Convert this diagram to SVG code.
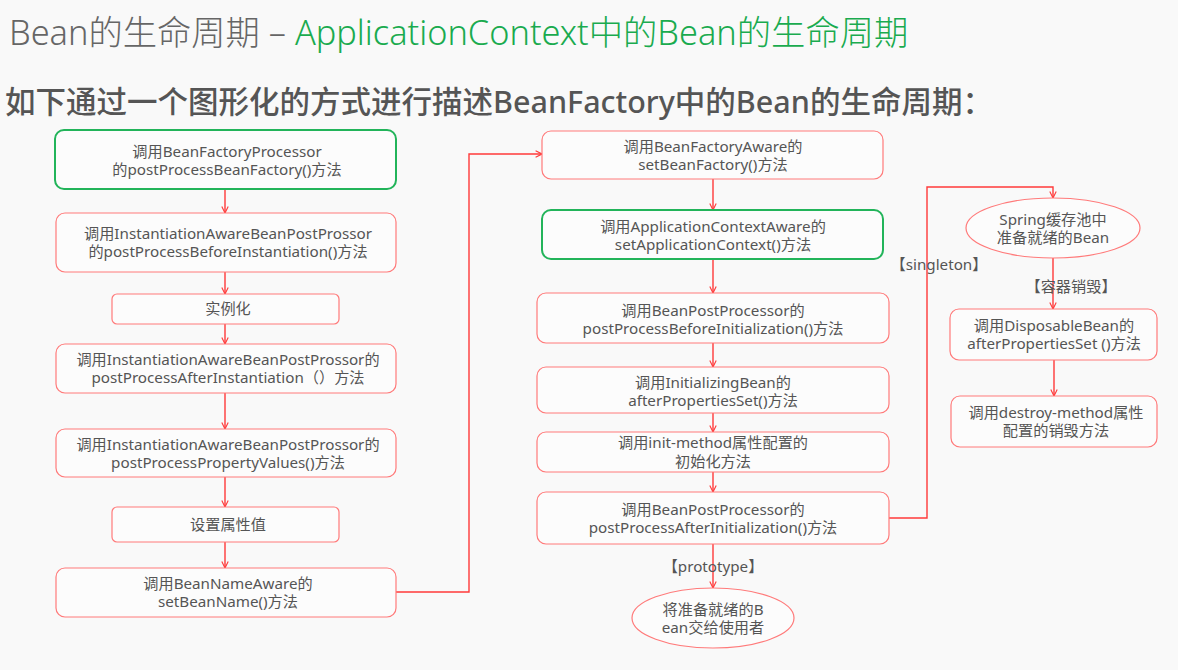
<svg xmlns="http://www.w3.org/2000/svg" width="1178" height="670" viewBox="0 0 1178 670">
<style>
.bg{fill:#f9f9f9}
.box{fill:#fcfcfc;stroke:#ff7a7a;stroke-width:1.2}
.gbox{fill:#fcfcfc;stroke:#22b45a;stroke-width:2}
.t{font-family:"Noto Sans","Noto Sans CJK SC",sans-serif;font-size:15.2px;fill:#555;text-anchor:middle}
.lbl{font-family:"Noto Sans","Noto Sans CJK SC",sans-serif;font-size:15.2px;fill:#555;text-anchor:middle}
.c{fill:none;stroke:#ff3a3a;stroke-width:1.4}
</style>
<defs>
<marker id="ah" viewBox="0 0 10 10" refX="9" refY="5" markerWidth="8" markerHeight="8" orient="auto" markerUnits="userSpaceOnUse">
<path d="M1,1 L9,5 L1,9" fill="none" stroke="#ff3a3a" stroke-width="1.4"/>
</marker>
</defs>
<rect class="bg" x="0" y="0" width="1178" height="670"/>
<text x="9" y="45" font-family="'Noto Sans','Noto Sans CJK SC',sans-serif" font-size="34.3" font-weight="300" fill="#666">Bean的生命周期 – <tspan fill="#1aab4f">ApplicationContext中的Bean的生命周期</tspan></text>
<text x="5" y="113" font-family="'Noto Sans','Noto Sans CJK SC',sans-serif" font-size="30.5" font-weight="500" fill="#555">如下通过一个图形化的方式进行描述BeanFactory中的Bean的生命周期：</text>

<g id="connectors">
<line class="c" x1="225" y1="189" x2="225" y2="213" marker-end="url(#ah)"/>
<line class="c" x1="225" y1="272" x2="225" y2="294" marker-end="url(#ah)"/>
<line class="c" x1="225" y1="324" x2="225" y2="344" marker-end="url(#ah)"/>
<line class="c" x1="225" y1="393" x2="225" y2="429" marker-end="url(#ah)"/>
<line class="c" x1="225" y1="477" x2="225" y2="507" marker-end="url(#ah)"/>
<line class="c" x1="225" y1="542" x2="225" y2="568" marker-end="url(#ah)"/>
<polyline class="c" points="396,592 469,592 469,154 542,154" marker-end="url(#ah)"/>
<line class="c" x1="713" y1="179" x2="713" y2="210" marker-end="url(#ah)"/>
<line class="c" x1="713" y1="259" x2="713" y2="293" marker-end="url(#ah)"/>
<line class="c" x1="713" y1="343" x2="713" y2="367" marker-end="url(#ah)"/>
<line class="c" x1="713" y1="413" x2="713" y2="432" marker-end="url(#ah)"/>
<line class="c" x1="713" y1="472" x2="713" y2="492" marker-end="url(#ah)"/>
<line class="c" x1="713" y1="544" x2="713" y2="588" marker-end="url(#ah)"/>
<polyline class="c" points="889,518 927,518 927,187 1053,187 1053,198" marker-end="url(#ah)"/>
<line class="c" x1="1053" y1="258" x2="1053" y2="309" marker-end="url(#ah)"/>
<line class="c" x1="1054" y1="360" x2="1054" y2="396" marker-end="url(#ah)"/>
<text class="lbl" x="713" y="572">【prototype】</text>
<text class="lbl" x="939" y="270">【singleton】</text>
<text class="lbl" x="1071" y="292">【容器销毁】</text>
</g>

<g id="n1"><rect class="gbox" x="55" y="130" width="341" height="59" rx="9"/>
<text class="t" x="227" y="157">调用BeanFactoryProcessor</text><text class="t" x="227" y="175">的postProcessBeanFactory()方法</text></g>
<g id="n2"><rect class="box" x="56" y="213" width="340" height="59" rx="9"/>
<text class="t" x="228" y="239">调用InstantiationAwareBeanPostProssor</text><text class="t" x="228" y="257">的postProcessBeforeInstantiation()方法</text></g>
<g id="n3"><rect class="box" x="112" y="294" width="227" height="30" rx="5"/>
<text class="t" x="228" y="314">实例化</text></g>
<g id="n4"><rect class="box" x="56" y="344" width="340" height="49" rx="9"/>
<text class="t" x="228" y="365">调用InstantiationAwareBeanPostProssor的</text><text class="t" x="228" y="383">postProcessAfterInstantiation（）方法</text></g>
<g id="n5"><rect class="box" x="56" y="429" width="340" height="48" rx="9"/>
<text class="t" x="228" y="450">调用InstantiationAwareBeanPostProssor的</text><text class="t" x="228" y="468">postProcessPropertyValues()方法</text></g>
<g id="n6"><rect class="box" x="112" y="507" width="227" height="35" rx="5"/>
<text class="t" x="228" y="530">设置属性值</text></g>
<g id="n7"><rect class="box" x="56" y="568" width="340" height="49" rx="9"/>
<text class="t" x="228" y="589">调用BeanNameAware的</text><text class="t" x="228" y="607">setBeanName()方法</text></g>

<g id="n8"><rect class="box" x="542" y="131" width="341" height="48" rx="9"/>
<text class="t" x="713" y="152">调用BeanFactoryAware的</text><text class="t" x="713" y="170">setBeanFactory()方法</text></g>
<g id="n9"><rect class="gbox" x="542" y="210" width="341" height="49" rx="9"/>
<text class="t" x="713" y="232">调用ApplicationContextAware的</text><text class="t" x="713" y="250">setApplicationContext()方法</text></g>
<g id="n10"><rect class="box" x="537" y="293" width="352" height="50" rx="9"/>
<text class="t" x="713" y="316">调用BeanPostProcessor的</text><text class="t" x="713" y="334">postProcessBeforeInitialization()方法</text></g>
<g id="n11"><rect class="box" x="537" y="367" width="352" height="46" rx="9"/>
<text class="t" x="713" y="388">调用InitializingBean的</text><text class="t" x="713" y="406">afterPropertiesSet()方法</text></g>
<g id="n12"><rect class="box" x="537" y="432" width="352" height="40" rx="9"/>
<text class="t" x="713" y="448">调用init-method属性配置的</text><text class="t" x="713" y="467">初始化方法</text></g>
<g id="n13"><rect class="box" x="537" y="492" width="352" height="52" rx="9"/>
<text class="t" x="713" y="515">调用BeanPostProcessor的</text><text class="t" x="713" y="533">postProcessAfterInitialization()方法</text></g>
<g id="n14"><ellipse class="box" cx="713" cy="618" rx="81" ry="30"/>
<text class="t" x="713" y="615">将准备就绪的B</text><text class="t" x="713" y="633">ean交给使用者</text></g>

<g id="n15"><ellipse class="box" cx="1053" cy="228" rx="87" ry="30"/>
<text class="t" x="1053" y="225">Spring缓存池中</text><text class="t" x="1053" y="243">准备就绪的Bean</text></g>
<g id="n16"><rect class="box" x="950" y="309" width="207" height="51" rx="9"/>
<text class="t" x="1054" y="331">调用DisposableBean的</text><text class="t" x="1054" y="349">afterPropertiesSet ()方法</text></g>
<g id="n17"><rect class="box" x="951" y="396" width="206" height="51" rx="9"/>
<text class="t" x="1056" y="418">调用destroy-method属性</text><text class="t" x="1056" y="436">配置的销毁方法</text></g>
</svg>
